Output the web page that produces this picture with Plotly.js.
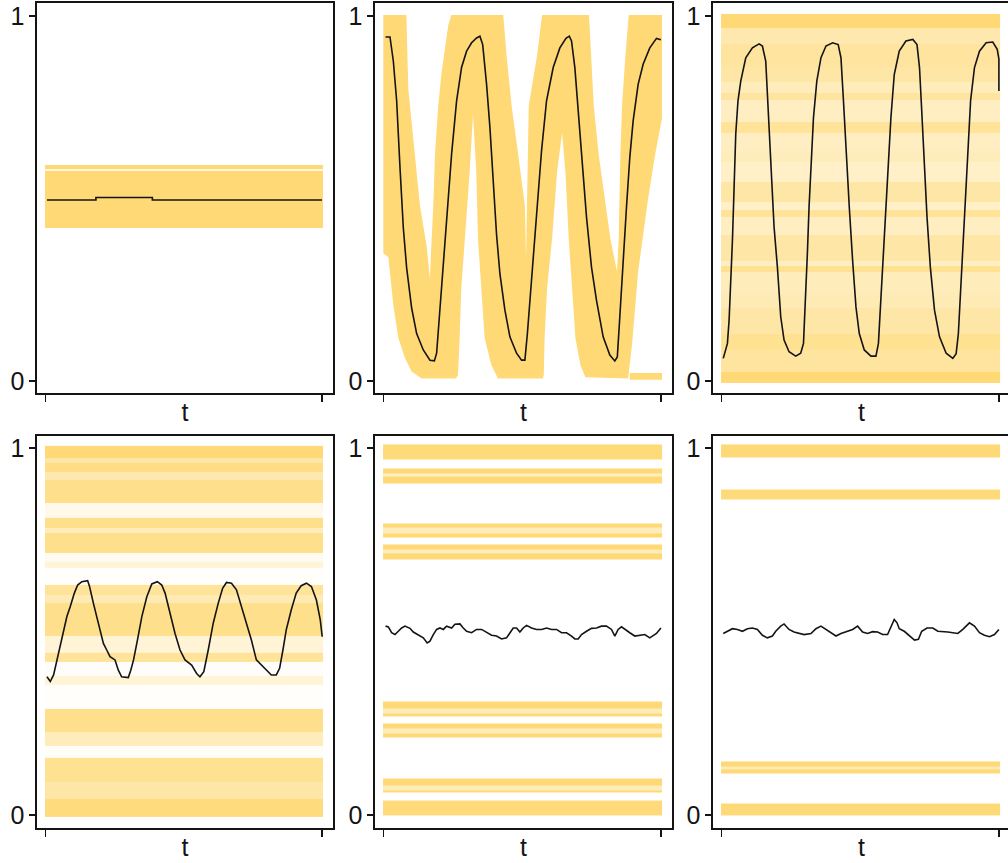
<!DOCTYPE html>
<html>
<head>
<meta charset="utf-8">
<script src="https://cdn.plot.ly/plotly-3.0.1.min.js"></script>
<style>
html,body{margin:0;padding:0;overflow:hidden;background:#fff;}
#chart{width:1012px;height:863px;}
</style>
</head>
<body>
<div id="chart"></div>
<script>
// ---------------- DATA ----------------
// x extent of the yellow point cloud (t units)
const cloudT = [-0.1, 100.4];

// Panel 1: constant mean, narrow cloud (rows: lower, upper, coverage)
const p1RowLo  = [0.42, 0.576, 0.582];
const p1RowHi  = [0.576, 0.582, 0.592];
const p1RowCov = [1, 0.2, 1];
const p1MeanT = [0.6, 18.3, 18.3, 38.7, 38.7, 100];
const p1MeanY = [0.496, 0.496, 0.503, 0.503, 0.496, 0.496];

// Panel 2: synchronised oscillation, cloud envelope (upper / lower boundary)
const p2HiT = [0, 8.3, 9.0, 11.4, 13.2, 15.6, 16.8, 17.4, 18.0, 18.6, 19.8, 21.0, 23.4, 24.5, 43.2, 44.4, 46.2, 48.6, 51.0, 51.4, 51.8, 52.4, 55.4, 57.2, 74.1, 75.8, 77.6, 80.0, 81.8, 84.2, 84.8, 85.4, 86.0, 87.2, 88.4, 100.4];
const p2HiY = [1.003, 1.003, 0.80, 0.62, 0.48, 0.37, 0.28, 0.39, 0.48, 0.62, 0.756, 0.847, 0.975, 1.003, 1.003, 0.893, 0.756, 0.62, 0.48, 0.33, 0.48, 0.756, 0.893, 1.003, 1.003, 0.756, 0.62, 0.48, 0.39, 0.30, 0.39, 0.62, 0.756, 0.89, 1.003, 1.003];
const p2LoT = [0, 1.8, 3.6, 5.4, 7.8, 10.2, 13.8, 26.2, 26.9, 27.5, 28.1, 29.3, 31.1, 32.3, 33.5, 34.1, 35.3, 36.5, 38.9, 41.3, 57.5, 57.8, 58.1, 59.0, 60.8, 62.6, 64.4, 65.6, 66.8, 68.0, 69.2, 71.0, 72.8, 88.2, 89.6, 91.8, 95.4, 97.9, 100.4];
const p2LoY = [0.35, 0.34, 0.208, 0.118, 0.063, 0.026, 0.007, 0.007, 0.016, 0.118, 0.255, 0.39, 0.573, 0.73, 0.573, 0.39, 0.255, 0.118, 0.044, 0.007, 0.007, 0.016, 0.118, 0.255, 0.39, 0.573, 0.68, 0.573, 0.39, 0.255, 0.118, 0.044, 0.01, 0.007, 0.10, 0.30, 0.5, 0.62, 0.72];
const p2StripT = [88.8, 100.4];
const p2StripY = [0.003, 0.022];
const p2MeanT = [0.8, 2.4, 3.6, 4.8, 6.0, 7.2, 8.4, 10.2, 12.0, 14.4, 16.8, 18.4, 19.2, 20.4, 21.6, 22.8, 24.6, 26.4, 28.2, 30.0, 31.8, 33.6, 34.8, 35.8, 37.2, 38.4, 39.6, 40.8, 42.0, 43.8, 45.6, 48.0, 49.8, 51.0, 51.9, 52.8, 54.0, 55.2, 57.0, 58.8, 61.2, 63.6, 65.8, 67.0, 67.8, 69.0, 70.2, 71.4, 73.2, 75.0, 76.8, 79.2, 81.6, 83.4, 84.3, 85.2, 86.4, 87.6, 88.8, 90.0, 91.8, 93.6, 96.0, 98.4, 100];
const p2MeanY = [0.943, 0.943, 0.877, 0.768, 0.586, 0.42, 0.31, 0.20, 0.13, 0.085, 0.057, 0.055, 0.076, 0.20, 0.33, 0.458, 0.622, 0.768, 0.86, 0.904, 0.927, 0.94, 0.945, 0.922, 0.813, 0.695, 0.53, 0.40, 0.294, 0.194, 0.121, 0.076, 0.057, 0.057, 0.13, 0.221, 0.349, 0.476, 0.631, 0.768, 0.859, 0.913, 0.939, 0.945, 0.932, 0.859, 0.74, 0.613, 0.449, 0.312, 0.221, 0.121, 0.071, 0.055, 0.066, 0.176, 0.34, 0.476, 0.613, 0.713, 0.813, 0.868, 0.913, 0.939, 0.935];

// Panel 3: desynchronised cloud, oscillating mean
const p3RowLo  = [-0.005, 0.025, 0.085, 0.13, 0.2, 0.24, 0.3, 0.315, 0.33, 0.4, 0.45, 0.47, 0.49, 0.545, 0.6, 0.63, 0.68, 0.71, 0.77, 0.79, 0.82, 0.86, 0.925, 0.968];
const p3RowHi  = [0.025, 0.085, 0.13, 0.2, 0.24, 0.3, 0.315, 0.33, 0.4, 0.45, 0.47, 0.49, 0.545, 0.6, 0.63, 0.68, 0.71, 0.77, 0.79, 0.82, 0.86, 0.925, 0.968, 1.006];
const p3RowCov = [1.0, 0.7, 0.8, 0.65, 0.55, 0.5, 0.8, 0.45, 0.65, 0.45, 0.75, 0.4, 0.65, 0.4, 0.5, 0.45, 0.75, 0.45, 0.7, 0.5, 0.65, 0.7, 0.6, 1.0];
const p3MeanT = [0.7, 2.2, 2.8, 3.4, 4.0, 4.6, 5.2, 6.0, 7.0, 8.8, 11.2, 13.6, 14.8, 16.0, 16.6, 17.2, 18.1, 19.0, 20.2, 21.4, 22.6, 24.4, 26.8, 28.6, 29.6, 30.4, 31.0, 31.6, 32.3, 33.2, 34.4, 35.9, 37.7, 40.1, 42.1, 43.1, 44.0, 44.9, 46.1, 47.3, 48.5, 49.7, 51.5, 53.9, 55.7, 56.6, 57.5, 58.5, 59.3, 60.3, 61.1, 62.3, 64.1, 66.5, 69.0, 70.5, 71.4, 72.2, 73.2, 74.1, 75.3, 76.8, 78.6, 81.0, 83.4, 84.6, 85.4, 86.2, 87.0, 87.8, 88.8, 89.8, 91.2, 93.0, 95.4, 97.8, 99.4, 100, 100];
const p3MeanY = [0.062, 0.103, 0.167, 0.258, 0.385, 0.531, 0.677, 0.768, 0.822, 0.886, 0.913, 0.924, 0.918, 0.877, 0.786, 0.658, 0.531, 0.422, 0.312, 0.176, 0.112, 0.08, 0.068, 0.076, 0.103, 0.221, 0.349, 0.476, 0.604, 0.722, 0.822, 0.886, 0.918, 0.927, 0.922, 0.886, 0.768, 0.631, 0.476, 0.33, 0.203, 0.13, 0.085, 0.068, 0.068, 0.103, 0.221, 0.358, 0.476, 0.604, 0.722, 0.84, 0.904, 0.932, 0.936, 0.922, 0.859, 0.74, 0.585, 0.449, 0.312, 0.194, 0.121, 0.076, 0.062, 0.075, 0.13, 0.24, 0.367, 0.494, 0.631, 0.768, 0.859, 0.904, 0.927, 0.929, 0.909, 0.882, 0.795];

// Panel 4: stripes over the whole range, damped oscillation of the mean
const p4RowLo  = [-0.005, 0.045, 0.09, 0.155, 0.19, 0.228, 0.29, 0.355, 0.38, 0.418, 0.442, 0.487, 0.578, 0.6, 0.628, 0.673, 0.69, 0.714, 0.768, 0.782, 0.81, 0.85, 0.914, 0.936, 0.96, 0.973];
const p4RowHi  = [0.045, 0.09, 0.155, 0.19, 0.228, 0.29, 0.355, 0.38, 0.418, 0.442, 0.487, 0.578, 0.6, 0.628, 0.673, 0.69, 0.714, 0.768, 0.782, 0.81, 0.85, 0.914, 0.936, 0.96, 0.973, 1.006];
const p4RowCov = [0.95, 0.65, 0.8, 0.06, 0.5, 0.85, 0.03, 0.3, 0.04, 0.75, 0.3, 0.85, 0.55, 0.75, 0.03, 0.3, 0.1, 0.85, 0.5, 0.85, 0.15, 0.85, 0.6, 0.9, 0.65, 1.0];
const p4MeanT = [0.6, 1.8, 3.0, 4.2, 5.4, 6.6, 7.8, 9.0, 10.5, 11.7, 13.2, 15.3, 16.0, 17.4, 19.2, 21.0, 22.2, 23.4, 25.2, 26.4, 27.6, 30.0, 30.9, 31.9, 33.3, 34.9, 36.7, 38.5, 40.5, 42.1, 43.3, 45.1, 46.9, 48.7, 50.5, 52.9, 54.7, 55.9, 57.3, 58.9, 60.7, 62.5, 64.1, 65.5, 67.3, 69.1, 70.9, 72.7, 74.5, 76.3, 78.1, 79.9, 81.7, 83.5, 84.7, 85.9, 87.1, 88.9, 90.7, 92.5, 94.4, 96.2, 98.0, 99.4, 100.1];
const p4MeanY = [0.377, 0.364, 0.382, 0.423, 0.459, 0.505, 0.541, 0.568, 0.605, 0.627, 0.636, 0.639, 0.623, 0.577, 0.523, 0.468, 0.45, 0.432, 0.423, 0.395, 0.377, 0.375, 0.395, 0.423, 0.477, 0.541, 0.595, 0.63, 0.636, 0.627, 0.605, 0.55, 0.495, 0.45, 0.423, 0.409, 0.386, 0.377, 0.391, 0.45, 0.523, 0.577, 0.618, 0.634, 0.632, 0.614, 0.568, 0.523, 0.477, 0.423, 0.409, 0.395, 0.382, 0.382, 0.4, 0.45, 0.505, 0.559, 0.605, 0.625, 0.632, 0.623, 0.586, 0.532, 0.486];

// Panel 5: eight discrete levels, flat mean
const p5RowLo  = [-0.002, 0.061, 0.068, 0.082, 0.212, 0.223, 0.237, 0.269, 0.278, 0.292, 0.697, 0.714, 0.725, 0.757, 0.768, 0.784, 0.905, 0.922, 0.932, 0.969];
const p5RowHi  = [0.039, 0.068, 0.082, 0.10, 0.223, 0.237, 0.251, 0.278, 0.292, 0.31, 0.714, 0.725, 0.738, 0.768, 0.784, 0.795, 0.922, 0.932, 0.945, 1.01];
const p5RowCov = [0.97, 1, 0.5, 1, 1, 0.5, 1, 1, 0.5, 1, 1, 0.5, 1, 1, 0.5, 1, 1, 0.45, 1, 0.98];
const p5MeanT = [0.8, 1.8, 3.0, 4.2, 5.4, 6.6, 7.8, 9.6, 10.8, 12.6, 14.4, 15.8, 16.8, 18.0, 19.2, 20.4, 21.6, 22.8, 24.6, 25.8, 27.6, 28.8, 30.0, 31.8, 33.6, 35.4, 37.2, 39.0, 40.8, 42.6, 44.4, 45.6, 46.8, 48.0, 49.2, 50.4, 51.6, 53.4, 55.2, 57.0, 58.8, 60.6, 62.4, 64.2, 66.0, 67.8, 69.0, 70.2, 71.4, 73.2, 75.0, 76.8, 78.6, 80.4, 82.2, 83.4, 84.6, 85.8, 87.0, 88.8, 90.6, 92.4, 94.2, 96.0, 97.2, 98.4, 100];
const p5MeanY = [0.515, 0.513, 0.497, 0.492, 0.501, 0.510, 0.515, 0.509, 0.499, 0.492, 0.483, 0.469, 0.474, 0.492, 0.506, 0.510, 0.506, 0.515, 0.510, 0.520, 0.521, 0.510, 0.501, 0.497, 0.506, 0.506, 0.497, 0.490, 0.488, 0.480, 0.483, 0.497, 0.510, 0.510, 0.499, 0.510, 0.517, 0.510, 0.506, 0.506, 0.510, 0.506, 0.506, 0.497, 0.497, 0.488, 0.480, 0.480, 0.492, 0.501, 0.509, 0.510, 0.515, 0.515, 0.506, 0.488, 0.506, 0.513, 0.506, 0.497, 0.488, 0.490, 0.492, 0.483, 0.488, 0.495, 0.510];

// Panel 6: four discrete levels, flat mean
const p6RowLo  = [-0.002, 0.114, 0.124, 0.132, 0.859, 0.975];
const p6RowHi  = [0.032, 0.124, 0.132, 0.146, 0.887, 1.01];
const p6RowCov = [0.99, 1, 0.55, 1, 0.97, 0.99];
const p6MeanT = [0.7, 2.2, 4.0, 5.8, 7.6, 9.4, 11.2, 13.0, 14.8, 16.6, 18.4, 19.6, 21.4, 22.6, 24.4, 26.2, 28.0, 29.8, 32.3, 34.1, 35.9, 37.7, 39.5, 41.3, 43.1, 45.5, 47.3, 49.1, 50.9, 52.7, 54.5, 56.3, 58.1, 59.9, 61.4, 62.3, 63.3, 64.1, 65.9, 67.7, 69.6, 71.0, 72.2, 74.1, 76.2, 78.0, 79.8, 81.6, 83.4, 85.2, 87.0, 89.4, 91.2, 93.0, 94.8, 96.6, 98.4, 100];
const p6MeanY = [0.495, 0.501, 0.508, 0.506, 0.501, 0.508, 0.510, 0.506, 0.490, 0.483, 0.488, 0.501, 0.515, 0.521, 0.506, 0.499, 0.495, 0.492, 0.495, 0.508, 0.515, 0.506, 0.495, 0.488, 0.495, 0.501, 0.506, 0.515, 0.499, 0.495, 0.500, 0.499, 0.492, 0.492, 0.515, 0.533, 0.524, 0.508, 0.501, 0.488, 0.477, 0.479, 0.501, 0.510, 0.510, 0.501, 0.501, 0.499, 0.497, 0.495, 0.506, 0.524, 0.515, 0.497, 0.490, 0.486, 0.492, 0.506];

const yTickVals = [0, 1];
const yTickText = ['0', '1'];
const xTickVals = [0, 100];
const xTitle = 't';

// ---------------- STYLE / LAYOUT ----------------
const W = 1012, H = 863;
const YELLOW = '#FED976';
const INK = '#141414';
const colPx = [[37, 333], [375, 672], [713, 1010]];
const rowPx = [[3, 393], [436, 828]];
const rowRange = [[-0.033, 1.036], [-0.035, 1.033]];
const FONT = 'Liberation Sans, Arial, sans-serif';
const FS = 25;

function sfxOf(i) { return i === 1 ? '' : String(i); }
function heatFromRows(lo, hi, cov, axisIdx) {
  const edges = [lo[0]];
  const z = [];
  for (let i = 0; i < lo.length; i++) {
    if (i > 0 && lo[i] > hi[i - 1] + 1e-9) { edges.push(lo[i]); z.push([null]); }
    edges.push(hi[i]);
    z.push([cov[i]]);
  }
  return {
    type: 'heatmap', x: cloudT, y: edges, z: z,
    zmin: 0, zmax: 1, showscale: false, hoverinfo: 'skip',
    colorscale: [[0, '#ffffff'], [1, YELLOW]],
    xaxis: 'x' + sfxOf(axisIdx), yaxis: 'y' + sfxOf(axisIdx)
  };
}
function meanLine(t, y, axisIdx) {
  return {
    type: 'scatter', mode: 'lines', x: t, y: y,
    line: {color: INK, width: 1.6}, hoverinfo: 'skip',
    xaxis: 'x' + sfxOf(axisIdx), yaxis: 'y' + sfxOf(axisIdx)
  };
}

const traces = [];
traces.push(heatFromRows(p1RowLo, p1RowHi, p1RowCov, 1));
traces.push(meanLine(p1MeanT, p1MeanY, 1));

// panel 2 envelope polygon
traces.push({
  type: 'scatter', mode: 'lines', fill: 'toself', fillcolor: YELLOW,
  x: p2HiT.concat(p2LoT.slice().reverse()),
  y: p2HiY.concat(p2LoY.slice().reverse()),
  line: {width: 0, color: YELLOW}, hoverinfo: 'skip', xaxis: 'x2', yaxis: 'y2'
});
traces.push({
  type: 'scatter', mode: 'lines', fill: 'toself', fillcolor: YELLOW,
  x: [p2StripT[0], p2StripT[1], p2StripT[1], p2StripT[0]],
  y: [p2StripY[0], p2StripY[0], p2StripY[1], p2StripY[1]],
  line: {width: 0, color: YELLOW}, hoverinfo: 'skip', xaxis: 'x2', yaxis: 'y2'
});
traces.push(meanLine(p2MeanT, p2MeanY, 2));

traces.push(heatFromRows(p3RowLo, p3RowHi, p3RowCov, 3));
traces.push(meanLine(p3MeanT, p3MeanY, 3));
traces.push(heatFromRows(p4RowLo, p4RowHi, p4RowCov, 4));
traces.push(meanLine(p4MeanT, p4MeanY, 4));
traces.push(heatFromRows(p5RowLo, p5RowHi, p5RowCov, 5));
traces.push(meanLine(p5MeanT, p5MeanY, 5));
traces.push(heatFromRows(p6RowLo, p6RowHi, p6RowCov, 6));
traces.push(meanLine(p6MeanT, p6MeanY, 6));

const layout = {
  width: W, height: H, margin: {l: 0, r: 0, t: 0, b: 0},
  paper_bgcolor: '#ffffff', plot_bgcolor: '#ffffff', showlegend: false,
  font: {family: FONT, color: INK}
};
for (let k = 0; k < 6; k++) {
  const r = Math.floor(k / 3), c = k % 3;
  const sfx = sfxOf(k + 1);
  layout['xaxis' + sfx] = {
    domain: [colPx[c][0] / W, colPx[c][1] / W], range: [-3, 104],
    anchor: 'y' + sfx, showgrid: false, zeroline: false,
    showline: true, mirror: true, linecolor: INK, linewidth: 1.6,
    ticks: 'outside', tickvals: xTickVals, showticklabels: false,
    ticklen: 7, tickwidth: 1.4, tickcolor: INK,
    title: {text: xTitle, font: {size: FS, family: FONT, color: INK}, standoff: 3},
    fixedrange: true
  };
  layout['yaxis' + sfx] = {
    domain: [1 - rowPx[r][1] / H, 1 - rowPx[r][0] / H], range: rowRange[r],
    anchor: 'x' + sfx, showgrid: false, zeroline: false,
    showline: true, mirror: true, linecolor: INK, linewidth: 1.6,
    ticks: 'outside', tickvals: yTickVals, ticktext: yTickText,
    ticklen: 6, tickwidth: 1.4, tickcolor: INK,
    tickfont: {size: FS, family: FONT, color: INK},
    fixedrange: true
  };
}
Plotly.newPlot('chart', traces, layout, {staticPlot: true, displayModeBar: false});
</script>
</body>
</html>
